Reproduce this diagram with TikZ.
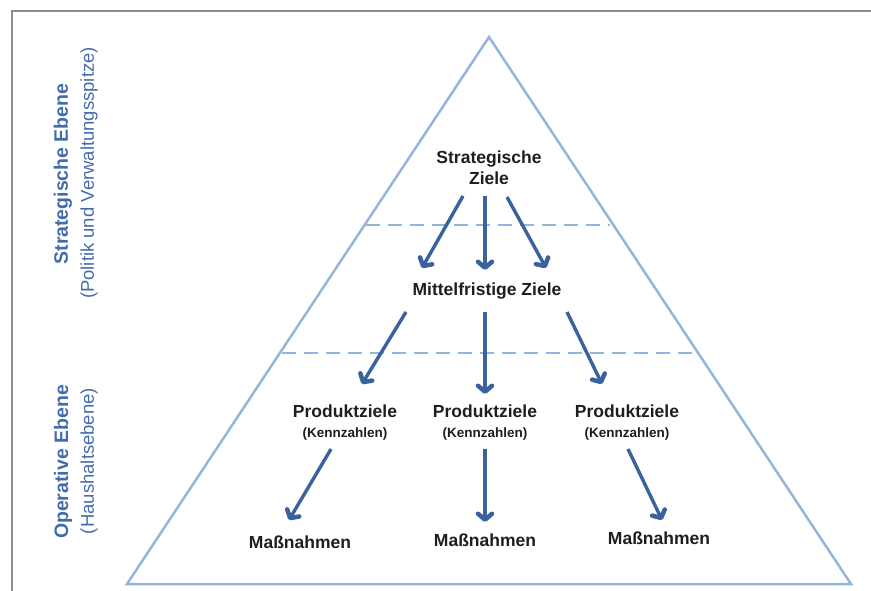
\documentclass[tikz,border=0pt]{standalone}
\usepackage{fontspec}
\setmainfont{Liberation Sans}
\usepackage{tikz}
\usetikzlibrary{positioning,arrows.meta}

\definecolor{pyrline}{RGB}{149,182,220}
\definecolor{arrowblue}{RGB}{58,98,158}
\definecolor{levelblue}{RGB}{68,108,172}
\definecolor{textgray}{RGB}{30,30,30}

\begin{document}
\begin{tikzpicture}[
    x=1pt, y=-1pt,
    goalnode/.style={text=textgray, align=center, inner sep=0pt,
        font=\fontsize{17.5}{21}\selectfont\bfseries},
    levelnode/.style={text=levelblue, rotate=90, inner sep=0pt},
    goalarrow/.style={-{Straight Barb[length=6pt,width=14pt,line width=4.5pt,round]}, draw=arrowblue, line width=3.4pt},
    divider/.style={draw=pyrline, line width=2.5pt, dash pattern=on 14pt off 8pt}
    ]
        \useasboundingbox (0,0) rectangle (871,591);
        %Frame
        \draw[draw=black!45, line width=2pt] (12,591) -- (12,11) -- (871,11);

        %Pyramid
        \draw[draw=pyrline, line width=2.5pt, line join=miter]
            (489,37) -- (851,584) -- (127,584) -- cycle;
        \draw[divider] (366,225) -- (610,225);
        \draw[divider] (282,353) -- (694,353);

        %Levels
        \node[levelnode, font=\fontsize{19.5}{22}\selectfont\bfseries]
            (se) at (63,174)  {Strategische Ebene};
        \node[levelnode, font=\fontsize{18.5}{22}\selectfont]
            (sesub) at (89,173) {(Politik und Verwaltungsspitze)};
        \node[levelnode, font=\fontsize{19.5}{22}\selectfont\bfseries]
            (oe) at (63,462)  {Operative Ebene};
        \node[levelnode, font=\fontsize{18.5}{22}\selectfont]
            (oesub) at (89,461) {(Haushaltsebene)};

        %Nodes
        \node[goalnode]
            (sz) at (489,168) {Strategische\\Ziele};
        \node[goalnode]
            (mz) at (487,291) {Mittelfristige Ziele};
        \node[goalnode]
            (p1) at (345,423) {Produktziele\\[-1pt]{\fontsize{13.5}{16}\selectfont(Kennzahlen)}};
        \node[goalnode]
            (p2) at (485,423) {Produktziele\\[-1pt]{\fontsize{13.5}{16}\selectfont(Kennzahlen)}};
        \node[goalnode]
            (p3) at (627,423) {Produktziele\\[-1pt]{\fontsize{13.5}{16}\selectfont(Kennzahlen)}};
        \node[goalnode]
            (m1) at (300,542) {Maßnahmen};
        \node[goalnode]
            (m2) at (485,540) {Maßnahmen};
        \node[goalnode]
            (m3) at (659,538) {Maßnahmen};

        %Lines
        \draw[goalarrow] ([shift={(-26,28)}]sz.center) -- ([shift={(-65,-23)}]mz.center);
        \draw[goalarrow] ([shift={(-4,28)}]sz.center)  -- ([shift={(-2,-21)}]mz.center);
        \draw[goalarrow] ([shift={(18,29)}]sz.center)  -- ([shift={(59,-23)}]mz.center);

        \draw[goalarrow] ([shift={(-81,21)}]mz.center) -- ([shift={(17,-39)}]p1.center);
        \draw[goalarrow] ([shift={(-2,21)}]mz.center)  -- ([shift={(0,-29)}]p2.center);
        \draw[goalarrow] ([shift={(80,21)}]mz.center)  -- ([shift={(-25,-39)}]p3.center);

        \draw[goalarrow] ([shift={(-14,26)}]p1.center) -- ([shift={(-11,-22)}]m1.center);
        \draw[goalarrow] ([shift={(0,26)}]p2.center)   -- ([shift={(0,-18)}]m2.center);
        \draw[goalarrow] ([shift={(1,26)}]p3.center)   -- ([shift={(3,-18)}]m3.center);
    \end{tikzpicture}
\end{document}
